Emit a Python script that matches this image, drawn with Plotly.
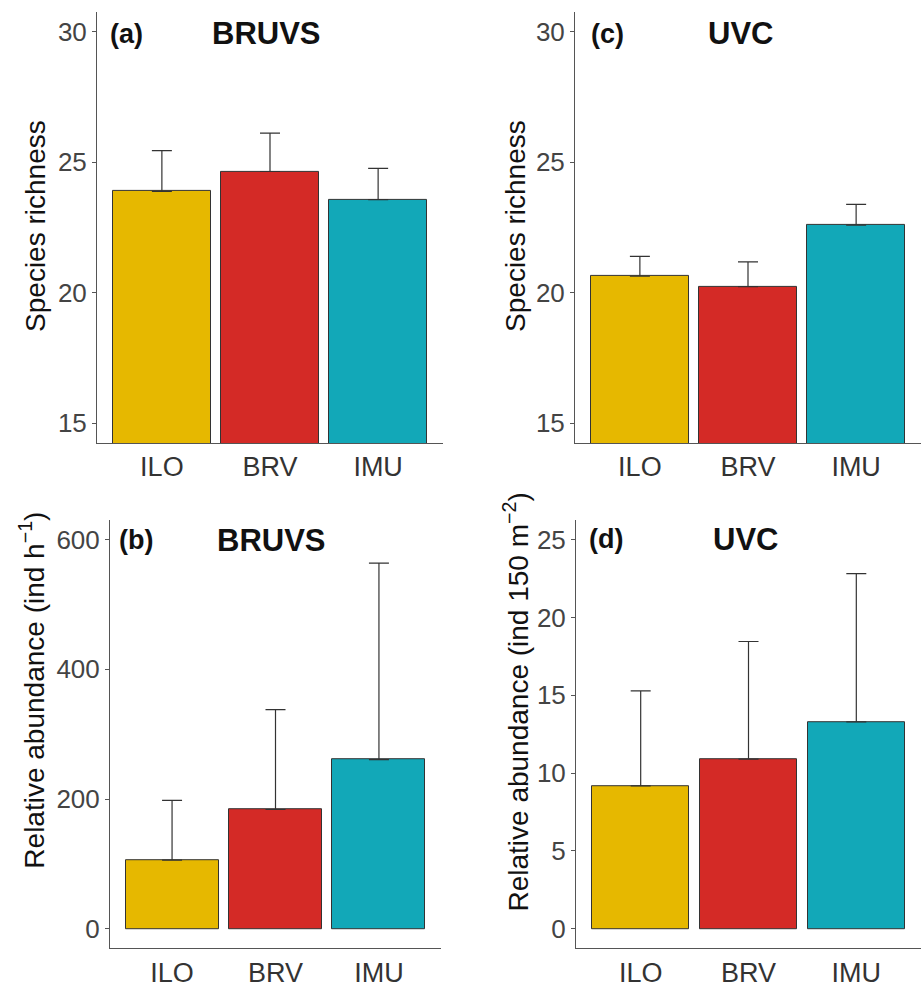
import plotly.graph_objects as go

sites = ["ILO", "BRV", "IMU"]
colors = ["#E6B800", "#D42A26", "#12A8B8"]

richness_bruvs = [23.88, 24.64, 23.56]
richness_bruvs_se = [1.56, 1.47, 1.20]
abund_bruvs = [106, 184, 261]
abund_bruvs_se = [92, 154, 303]
richness_uvc = [20.63, 20.23, 22.59]
richness_uvc_se = [0.76, 0.95, 0.79]
abund_uvc = [9.18, 10.90, 13.29]
abund_uvc_se = [6.11, 7.56, 9.53]

W, H = 922, 988
FONT = "Liberation Sans, Arial, sans-serif"

def px(v):
    return v / W

def py(v):
    return 1 - v / H

panels = [
    ("1", richness_bruvs, richness_bruvs_se, (97, 443), (12, 447), [14.25, 30.75], [15, 20, 25, 30]),
    ("2", richness_uvc, richness_uvc_se, (575, 921), (12, 447), [14.25, 30.75], [15, 20, 25, 30]),
    ("3", abund_bruvs, abund_bruvs_se, (110, 441), (525, 957), [-30, 630], [0, 200, 400, 600]),
    ("4", abund_uvc, abund_uvc_se, (576, 921), (525, 957), [-1.25, 26.25], [0, 5, 10, 15, 20, 25]),
]

fig = go.Figure()
layout = {}
for key, vals, se, xd, yd, yr, ticks in panels:
    xa = "x" if key == "1" else "x" + key
    ya = "y" if key == "1" else "y" + key
    fig.add_trace(go.Bar(
        x=sites, y=vals, width=0.9,
        marker=dict(color=colors, line=dict(color="#333333", width=1)),
        error_y=dict(type="data", array=se, arrayminus=[0] * len(se), symmetric=False,
                     color="#333333", thickness=1.2, width=10),
        xaxis=xa, yaxis=ya, showlegend=False, hoverinfo="x+y",
    ))
    lx = "xaxis" if key == "1" else "xaxis" + key
    ly = "yaxis" if key == "1" else "yaxis" + key
    layout[lx] = dict(
        domain=[px(xd[0]), min(1.0, px(xd[1]))], anchor=ya, type="category",
        range=[-0.6, 2.6], showline=True, linecolor="#555555", linewidth=1,
        ticks="", showgrid=False, zeroline=False, ticklabelstandoff=0,
        tickfont=dict(family=FONT, size=27, color="#333333"),
    )
    layout[ly] = dict(
        domain=[py(yd[1]), py(yd[0])], anchor=xa, range=yr,
        tickvals=ticks, showline=True, linecolor="#555555", linewidth=1,
        ticks="outside", ticklen=4, tickcolor="#555555", showgrid=False, zeroline=False,
        tickfont=dict(family=FONT, size=26, color="#444444"),
    )

annotations = []
def ann(text, x, y, size, bold=False, angle=0, xanchor="center"):
    annotations.append(dict(
        text=("<b>%s</b>" % text) if bold else text, x=px(x), y=py(y),
        xref="paper", yref="paper", showarrow=False, textangle=angle,
        xanchor=xanchor, yanchor="middle",
        font=dict(family=FONT, size=size, color="#111111"),
    ))

ann("(a)", 108, 34, 27, bold=True, xanchor="left")
ann("BRUVS", 266, 34, 31, bold=True)
ann("(c)", 589, 34, 27, bold=True, xanchor="left")
ann("UVC", 740, 34, 31, bold=True)
ann("(b)", 117, 545, 27, bold=True, xanchor="left")
ann("BRUVS", 271, 545, 31, bold=True)
ann("(d)", 587, 544, 27, bold=True, xanchor="left")
ann("UVC", 745, 544, 31, bold=True)

ann("Species richness", 36, 228, 28, angle=-90)
ann("Species richness", 516, 228, 28, angle=-90)
ann("Relative abundance (ind h<sup>−1</sup>)", 32, 697, 28, angle=-90)
ann("Relative abundance (ind 150 m<sup>−2</sup>)", 516, 709, 28, angle=-90)

fig.update_layout(
    width=W, height=H, margin=dict(l=0, r=0, t=0, b=0),
    paper_bgcolor="white", plot_bgcolor="white",
    bargap=0, annotations=annotations, **layout,
)

fig.write_html(
    "out.html",
    config={"displayModeBar": False},
    post_script="document.body.style.margin='0';document.body.style.overflow='hidden';",
)
